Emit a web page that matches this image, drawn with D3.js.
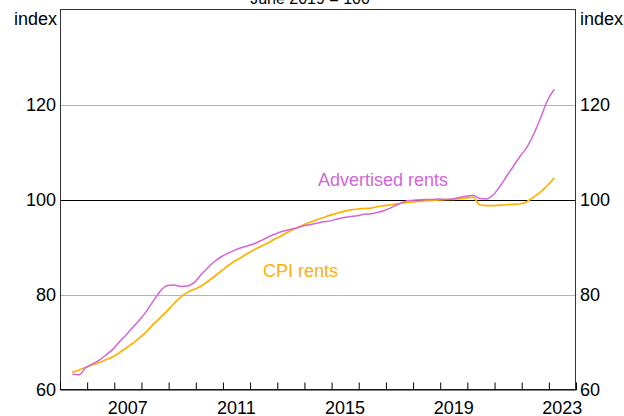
<!DOCTYPE html>
<html><head><meta charset="utf-8">
<script src="https://cdn.jsdelivr.net/npm/d3@7"></script>
<style>
body{margin:0;background:#fff}
svg{display:block}
text{font-family:"Liberation Sans",Arial,Helvetica,sans-serif;}
</style>
</head><body>
<svg id="c" width="624" height="416"></svg>
<script>
// Quarterly observations, June 2005 to March 2023 (June 2019 = 100)
const firstQuarter = "2005-06-15";
const advertisedRents = [
  63.2, 63.1, 64.6,
  65.4, 66.2, 67.3, 68.5,
  70.1, 71.6, 73.2, 74.8,
  76.6, 78.8, 80.8, 81.9,
  82.0, 81.7, 81.8, 82.6,
  84.2, 85.7, 87.0, 88.0,
  88.7, 89.4, 89.9, 90.3,
  90.8, 91.5, 92.2, 92.8,
  93.3, 93.7, 94.0, 94.4,
  94.7, 95.0, 95.3, 95.5,
  95.9, 96.2, 96.4, 96.6,
  96.9, 97.0, 97.3, 97.7,
  98.3, 99.0, 99.6, 99.8,
  99.9, 100.0, 100.0, 100.1,
  100.0, 100.1, 100.4, 100.7,
  100.9, 100.2, 100.1, 101.0,
  102.8, 105.0, 107.1, 109.2,
  111.1, 113.9, 117.3, 120.9,
  123.2
];
const cpiRents = [
  63.6, 64.1, 64.7,
  65.2, 65.7, 66.3, 66.9,
  67.8, 68.8, 69.8, 71.0,
  72.3, 73.8, 75.2, 76.6,
  78.1, 79.5, 80.5, 81.1,
  81.8, 82.8, 83.9, 85.0,
  86.1, 87.1, 87.9, 88.8,
  89.6, 90.3, 91.0, 91.8,
  92.5, 93.3, 94.0, 94.6,
  95.2, 95.7, 96.2, 96.7,
  97.1, 97.5, 97.8, 98.0,
  98.1, 98.2, 98.5, 98.7,
  98.9, 99.1, 99.3, 99.5,
  99.6, 99.7, 99.8, 99.9,
  100.0, 100.0, 100.2, 100.3,
  100.5, 98.9, 98.7, 98.7,
  98.8, 98.9, 99.0, 99.1,
  99.6, 100.6, 101.6, 103.0,
  104.5
];
const yTicks = [60, 80, 100, 120];
const yearTicks = d3.range(2006, 2024);
const yearLabels = [2007, 2011, 2015, 2019, 2023];
const title = "June 2019 = 100";

const svg = d3.select("#c");
const L = 60, R = 576, T = 9.5, B = 389.5;

const start = d3.timeParse("%Y-%m-%d")(firstQuarter);
const dates = advertisedRents.map((d, i) => d3.timeMonth.offset(start, 3 * i));

const x = d3.scaleTime().domain([new Date(2005, 0, 1), new Date(2024, 0, 1)]).range([L, R]);
const y = d3.scaleLinear().domain([60, 140]).range([B, T]);

const purple = "#d266d6";
const orange = "#ffb000";

// gridlines
svg.append("g").selectAll("line").data(yTicks.filter(v => v > 60)).join("line")
  .attr("x1", L).attr("x2", R)
  .attr("y1", d => Math.round(y(d)) + 0.5).attr("y2", d => Math.round(y(d)) + 0.5)
  .attr("stroke", d => d === 100 ? "#000" : "#b4b4b4")
  .attr("stroke-width", 1);

// frame
svg.append("rect").attr("x", L + 0.5).attr("y", T).attr("width", R - L - 1).attr("height", B - T)
  .attr("fill", "none").attr("stroke", "#333").attr("stroke-width", 1);

// x axis ticks (inward)
const xAxis = d3.axisBottom(x).tickValues(yearTicks.map(yr => new Date(yr, 0, 1)))
  .tickSize(-7).tickFormat("");
const gx = svg.append("g").attr("transform", `translate(0,${B})`).call(xAxis);
gx.select(".domain").attr("stroke", "#000");
gx.selectAll(".tick line").attr("stroke", "#000");

// x labels centred on year
svg.append("g").selectAll("text").data(yearLabels).join("text")
  .attr("x", d => x(new Date(d, 6, 1)))
  .attr("y", 414)
  .attr("text-anchor", "middle")
  .attr("font-size", 18)
  .attr("fill", "#000")
  .text(d => d);

// y axes
const gl = svg.append("g").attr("transform", `translate(${L},0)`)
  .call(d3.axisLeft(y).tickValues(yTicks).tickSize(0).tickPadding(4));
const gr = svg.append("g").attr("transform", `translate(${R},0)`)
  .call(d3.axisRight(y).tickValues(yTicks).tickSize(0).tickPadding(4));
[gl, gr].forEach(g => {
  g.select(".domain").remove();
  g.selectAll("text").attr("font-size", 18).attr("font-family", '"Liberation Sans",Arial,sans-serif').attr("fill", "#000");
});

// unit labels
svg.append("text").attr("x", 57).attr("y", 25).attr("text-anchor", "end")
  .attr("font-size", 18).text("index");
svg.append("text").attr("x", 580).attr("y", 25).attr("text-anchor", "start")
  .attr("font-size", 18).text("index");

// title (cropped at top, as in the reference)
svg.append("text").attr("x", 310).attr("y", 3.5).attr("text-anchor", "middle")
  .attr("font-size", 16).text(title);

// lines
const line = d3.line().x((d, i) => x(dates[i])).y(d => y(d)).curve(d3.curveMonotoneX);
svg.append("path").datum(cpiRents).attr("d", line)
  .attr("fill", "none").attr("stroke", orange).attr("stroke-width", 1.7);
svg.append("path").datum(advertisedRents).attr("d", line)
  .attr("fill", "none").attr("stroke", purple).attr("stroke-width", 1.5);

// series labels
svg.append("text").attr("x", 318).attr("y", 186).attr("font-size", 18)
  .attr("fill", purple).text("Advertised rents");
svg.append("text").attr("x", 263).attr("y", 277).attr("font-size", 18)
  .attr("fill", orange).text("CPI rents");
</script>
</body></html>
